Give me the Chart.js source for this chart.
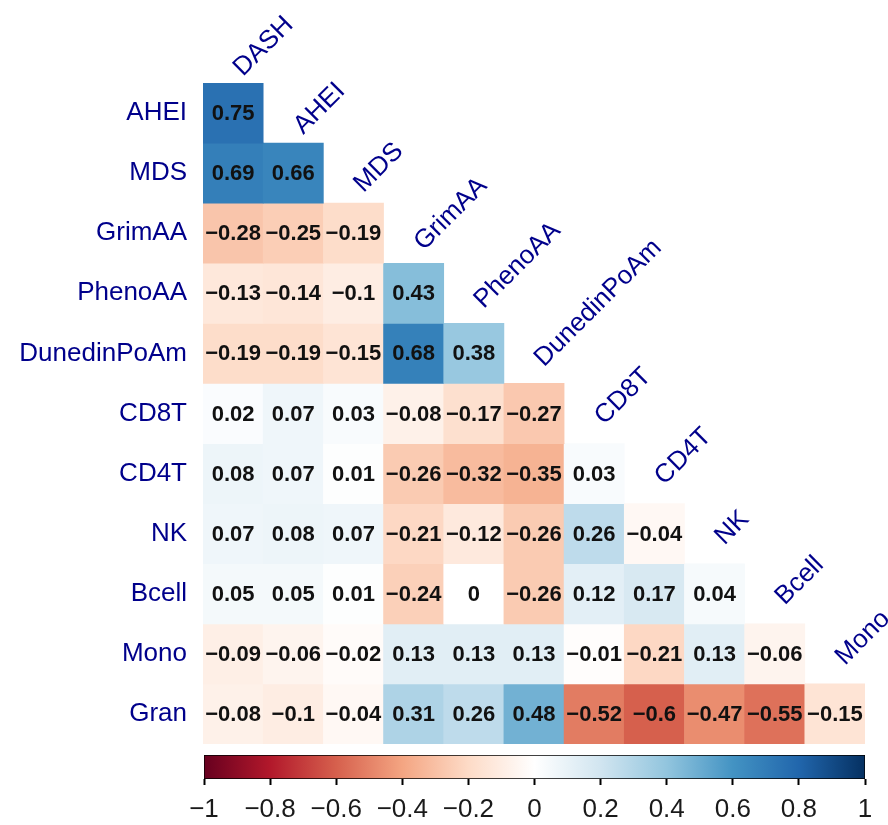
<!DOCTYPE html>
<html>
<head>
<meta charset="utf-8">
<script src="https://cdn.jsdelivr.net/npm/chart.js@4/dist/chart.umd.min.js"></script>
<style>
  body { margin: 0; background: #fff; }
  canvas { display: block; position: absolute; left: 0; }
  #heat { top: 0; }
  #bar { top: 745px; }
</style>
</head>
<body>
<canvas id="heat" width="888" height="745"></canvas>
<canvas id="bar" width="888" height="80"></canvas>
<script>
'use strict';

// row / column names of the lower triangle
var rowLabels = ['AHEI', 'MDS', 'GrimAA', 'PhenoAA', 'DunedinPoAm', 'CD8T', 'CD4T', 'NK', 'Bcell', 'Mono', 'Gran'];
var colLabels = ['DASH', 'AHEI', 'MDS', 'GrimAA', 'PhenoAA', 'DunedinPoAm', 'CD8T', 'CD4T', 'NK', 'Bcell', 'Mono'];

// correlations, one array per row
var ahei = [0.75];
var mds = [0.69, 0.66];
var grimAA = [-0.28, -0.25, -0.19];
var phenoAA = [-0.13, -0.14, -0.1, 0.43];
var dunedin = [-0.19, -0.19, -0.15, 0.68, 0.38];
var cd8t = [0.02, 0.07, 0.03, -0.08, -0.17, -0.27];
var cd4t = [0.08, 0.07, 0.01, -0.26, -0.32, -0.35, 0.03];
var nk = [0.07, 0.08, 0.07, -0.21, -0.12, -0.26, 0.26, -0.04];
var bcell = [0.05, 0.05, 0.01, -0.24, 0, -0.26, 0.12, 0.17, 0.04];
var mono = [-0.09, -0.06, -0.02, 0.13, 0.13, 0.13, -0.01, -0.21, 0.13, -0.06];
var gran = [-0.08, -0.1, -0.04, 0.31, 0.26, 0.48, -0.52, -0.6, -0.47, -0.55, -0.15];
var allRows = [ahei, mds, grimAA, phenoAA, dunedin, cd8t, cd4t, nk, bcell, mono, gran];

// colour bar ticks
var barTicks = [-1, -0.8, -0.6, -0.4, -0.2, 0, 0.2, 0.4, 0.6, 0.8, 1];

// RdBu palette, stops at -1 .. 1
var palette = ['#67001F', '#B2182B', '#D6604D', '#F4A582', '#FDDBC7', '#FFFFFF', '#D1E5F0', '#92C5DE', '#4393C3', '#2166AC', '#053061'];

var FONT = '"Liberation Sans", Arial, sans-serif';
var LABEL_COLOR = '#00008B';

function hexToRgb(h) {
  return [parseInt(h.substr(1, 2), 16), parseInt(h.substr(3, 2), 16), parseInt(h.substr(5, 2), 16)];
}

function colorFor(v) {
  var pos = (v + 1) / 2 * (palette.length - 1);
  var i = Math.min(Math.floor(pos), palette.length - 2);
  var t = pos - i;
  var a = hexToRgb(palette[i]);
  var b = hexToRgb(palette[i + 1]);
  var c = a.map(function (x, k) { return Math.round(x + (b[k] - x) * t); });
  return 'rgb(' + c.join(',') + ')';
}

function fmt(v) {
  if (v === 0) return '0';
  return String(v).replace('-', '\u2212');
}

var datasets = [];
for (var r = 0; r < allRows.length; r++) {
  var data = [];
  var colors = [];
  for (var c = 0; c < colLabels.length; c++) {
    if (c < allRows[r].length) {
      data.push([r, r + 1]);
      colors.push(colorFor(allRows[r][c]));
    } else {
      data.push(null);
      colors.push('rgba(0,0,0,0)');
    }
  }
  datasets.push({
    label: rowLabels[r],
    data: data,
    corr: allRows[r],
    backgroundColor: colors,
    borderWidth: 0,
    barPercentage: 1,
    categoryPercentage: 1,
    grouped: false
  });
}

var cellText = {
  id: 'cellText',
  afterDatasetsDraw: function (chart) {
    var ctx = chart.ctx;
    ctx.save();
    ctx.font = 'bold 22px ' + FONT;
    ctx.fillStyle = '#111';
    ctx.textAlign = 'center';
    ctx.textBaseline = 'middle';
    chart.data.datasets.forEach(function (ds, di) {
      var meta = chart.getDatasetMeta(di);
      meta.data.forEach(function (el, i) {
        if (i >= ds.corr.length) return;
        ctx.fillText(fmt(ds.corr[i]), el.x, (el.y + el.base) / 2 + 1);
      });
    });
    ctx.restore();
  }
};

// row names on the left, column names along the diagonal
var axisText = {
  id: 'axisText',
  afterDraw: function (chart) {
    var ctx = chart.ctx;
    var xs = chart.scales.x;
    var ys = chart.scales.y;
    ctx.save();
    ctx.font = '26px ' + FONT;
    ctx.fillStyle = LABEL_COLOR;

    ctx.textAlign = 'right';
    ctx.textBaseline = 'middle';
    rowLabels.forEach(function (name, i) {
      ctx.fillText(name, chart.chartArea.left - 16, ys.getPixelForValue(i + 0.5));
    });

    ctx.textAlign = 'left';
    ctx.textBaseline = 'alphabetic';
    colLabels.forEach(function (name, j) {
      var x = xs.getPixelForValue(j) + 10;
      var y = ys.getPixelForValue(j) - Math.min(18, 6 + 2 * j);
      ctx.save();
      ctx.translate(x, y);
      ctx.rotate(-Math.PI / 4);
      ctx.fillText(name, 0, 0);
      ctx.restore();
    });
    ctx.restore();
  }
};

new Chart(document.getElementById('heat'), {
  type: 'bar',
  data: { labels: colLabels, datasets: datasets },
  options: {
    responsive: false,
    animation: false,
    layout: { autoPadding: false, padding: { top: 83, right: 23, bottom: 1, left: 203 } },
    plugins: { legend: { display: false }, tooltip: { enabled: false } },
    scales: {
      x: { display: false },
      y: { display: false, type: 'linear', min: 0, max: rowLabels.length, reverse: true }
    }
  },
  plugins: [cellText, axisText]
});

// colour bar
new Chart(document.getElementById('bar'), {
  type: 'bar',
  data: {
    labels: [''],
    datasets: [{
      data: [[barTicks[0], barTicks[barTicks.length - 1]]],
      backgroundColor: function (context) {
        var area = context.chart.chartArea;
        if (!area) return '#fff';
        var g = context.chart.ctx.createLinearGradient(area.left, 0, area.right, 0);
        palette.forEach(function (col, i) { g.addColorStop(i / (palette.length - 1), col); });
        return g;
      },
      borderColor: '#000',
      borderWidth: 1,
      borderSkipped: false,
      barPercentage: 1,
      categoryPercentage: 1
    }]
  },
  options: {
    indexAxis: 'y',
    responsive: false,
    animation: false,
    layout: { autoPadding: false, padding: { top: 10, right: 23, bottom: 0, left: 204 } },
    plugins: { legend: { display: false }, tooltip: { enabled: false } },
    scales: {
      y: { display: false },
      x: {
        type: 'linear',
        min: -1,
        max: 1,
        afterBuildTicks: function (scale) {
          scale.ticks = barTicks.map(function (v) { return { value: v }; });
        },
        afterFit: function (scale) { scale.height = 46; },
        grid: { drawOnChartArea: false, drawTicks: true, tickLength: 6, tickColor: '#000', tickWidth: 2 },
        border: { display: false },
        ticks: {
          padding: 9,
          color: '#1a1a1a',
          font: { family: FONT, size: 26 },
          callback: function (v) { return fmt(Math.round(v * 10) / 10); }
        }
      }
    }
  }
});
</script>
</body>
</html>
